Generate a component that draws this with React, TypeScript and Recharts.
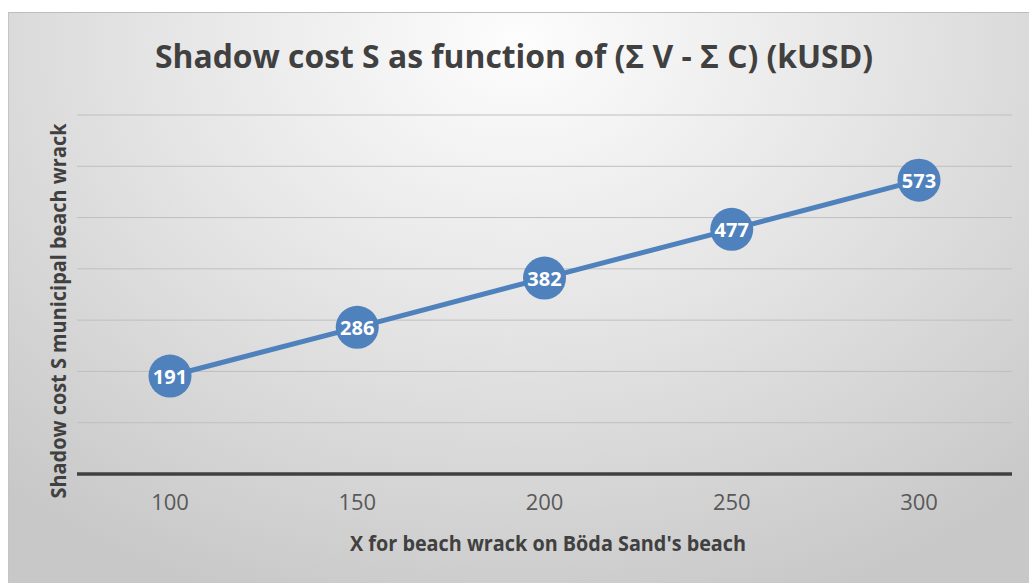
import React from "react";
import { LineChart, Line, XAxis, YAxis, CartesianGrid, LabelList } from "recharts";

const categories = ["100", "150", "200", "250", "300"];
const shadowCost = [191, 286, 382, 477, 573];
const yTicks = [0, 100, 200, 300, 400, 500, 600, 700];

const data = categories.map((c, i) => ({ x: c, s: shadowCost[i] }));

const W = 1021;
const H = 571;
const BLUE = "#4f81bd";
const FONT = "'Open Sans', 'DejaVu Sans', sans-serif";

const renderLabel = (props: any) => {
  const { x, y, value } = props;
  return (
    <text
      x={x}
      y={y}
      textAnchor="middle"
      dominantBaseline="central"
      fill="#ffffff"
      fontFamily={FONT}
      fontWeight={700}
      fontSize={20}
    >
      {value}
    </text>
  );
};

export default function App() {
  return (
    <div
      style={{
        position: "absolute",
        left: 8,
        top: 12,
        width: W,
        height: H,
        overflow: "hidden",
        boxSizing: "border-box",
        borderTop: "1px solid #bdbdbd",
        borderLeft: "1px solid #c4c4c4",
        background:
          "radial-gradient(ellipse 75% 105% at 50% 5%, #fdfdfd 0%, #e6e6e6 45%, #c8c8c8 100%)",
      }}
    >
      <svg
        width={W}
        height={H}
        style={{ position: "absolute", left: 0, top: 0, pointerEvents: "none" }}
      >
        <text
          x={505}
          y={55}
          textAnchor="middle"
          fill="#404040"
          fontFamily={FONT}
          fontWeight={700}
          fontSize={32}
          textLength={718}
          lengthAdjust="spacingAndGlyphs"
        >
          Shadow cost S as function of (Σ V - Σ C) (kUSD)
        </text>
        <text
          x={539}
          y={538}
          textAnchor="middle"
          fill="#404040"
          fontFamily={FONT}
          fontWeight={700}
          fontSize={21}
          textLength={396}
          lengthAdjust="spacingAndGlyphs"
        >
          X for beach wrack on Böda Sand's beach
        </text>
        <text
          transform="translate(57,298) rotate(-90)"
          x={0}
          y={0}
          textAnchor="middle"
          fill="#404040"
          fontFamily={FONT}
          fontWeight={700}
          fontSize={21}
          textLength={375}
          lengthAdjust="spacingAndGlyphs"
        >
          Shadow cost S municipal beach wrack
        </text>
      </svg>
      <LineChart
        width={W}
        height={H}
        data={data}
        margin={{ top: 102, right: 18, bottom: 50, left: 68 }}
        style={{ position: "absolute", left: 0, top: 0 }}
      >
        <CartesianGrid
          vertical={false}
          horizontalValues={yTicks}
          stroke="#bfbfbf"
          strokeWidth={1}
        />
        <YAxis
          domain={[0, 700]}
          ticks={yTicks}
          width={0}
          tick={{ fill: "transparent", fontSize: 1 }}
          axisLine={false}
          tickLine={false}
        />
        <XAxis
          dataKey="x"
          height={60}
          padding={{ left: 93, right: 93 }}
          axisLine={{ stroke: "#404040", strokeWidth: 3.5 }}
          tickLine={false}
          tick={{ fill: "#595959", fontSize: 22, fontFamily: FONT }}
          tickMargin={14}
        />
        <Line
          type="linear"
          dataKey="s"
          stroke={BLUE}
          strokeWidth={5}
          dot={{ r: 21.5, fill: BLUE, stroke: "none" }}
          activeDot={false}
          isAnimationActive={false}
        >
          <LabelList dataKey="s" content={renderLabel} />
        </Line>
      </LineChart>
    </div>
  );
}
